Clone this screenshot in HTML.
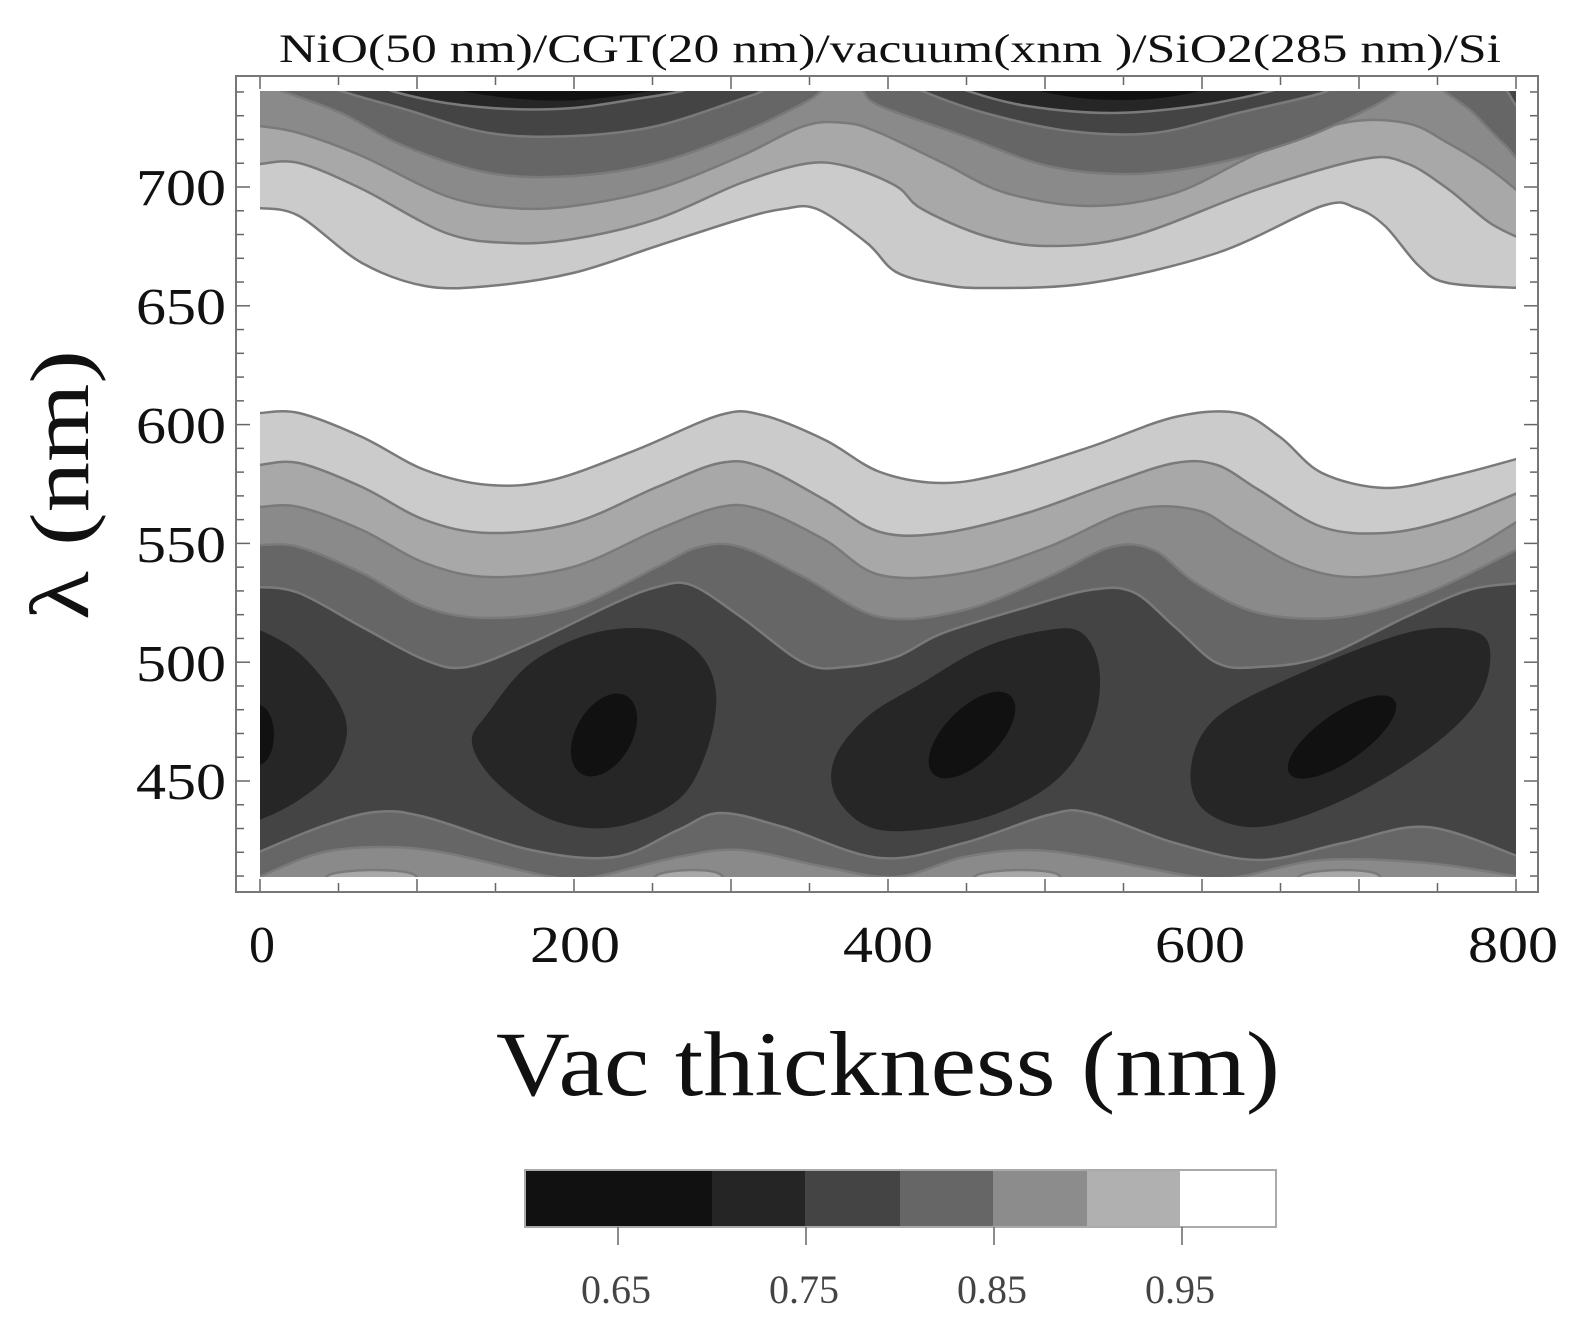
<!DOCTYPE html>
<html><head><meta charset="utf-8">
<style>
html,body{margin:0;padding:0;background:#fff;}
svg{display:block;}
text{font-family:"Liberation Serif",serif;}
</style></head>
<body>
<svg id="s" width="1574" height="1328" viewBox="0 0 1574 1328" xmlns="http://www.w3.org/2000/svg">
<defs><clipPath id="c"><rect x="260" y="91" width="1256" height="786"/></clipPath></defs>
<rect width="1574" height="1328" fill="#fff"/>
<g id="plot" clip-path="url(#c)"></g>
<g id="axes" stroke="#666" stroke-width="1.5" fill="none"></g>
<rect x="236" y="76" width="1302" height="816" fill="none" stroke="#777" stroke-width="2"/>
<text x="890" y="62" font-size="40" text-anchor="middle" textLength="1222" lengthAdjust="spacingAndGlyphs" fill="#111">NiO(50 nm)/CGT(20 nm)/vacuum(xnm )/SiO2(285 nm)/Si</text>
<g font-size="52" fill="#111" text-anchor="end">
<text x="226" y="205" textLength="90" lengthAdjust="spacingAndGlyphs">700</text><text x="226" y="324" textLength="90" lengthAdjust="spacingAndGlyphs">650</text><text x="226" y="443" textLength="90" lengthAdjust="spacingAndGlyphs">600</text>
<text x="226" y="562" textLength="90" lengthAdjust="spacingAndGlyphs">550</text><text x="226" y="681" textLength="90" lengthAdjust="spacingAndGlyphs">500</text><text x="226" y="799" textLength="90" lengthAdjust="spacingAndGlyphs">450</text>
</g>
<g font-size="52" fill="#111" text-anchor="middle">
<text x="262" y="962">0</text><text x="575" y="962" textLength="90" lengthAdjust="spacingAndGlyphs">200</text><text x="888" y="962" textLength="90" lengthAdjust="spacingAndGlyphs">400</text>
<text x="1200" y="962" textLength="90" lengthAdjust="spacingAndGlyphs">600</text><text x="1513" y="962" textLength="90" lengthAdjust="spacingAndGlyphs">800</text>
</g>
<text transform="translate(88,485) rotate(-90)" font-size="84" text-anchor="middle" textLength="270" lengthAdjust="spacingAndGlyphs" fill="#111">λ (nm)</text>
<text x="888" y="1095" font-size="92" text-anchor="middle" textLength="784" lengthAdjust="spacingAndGlyphs" fill="#111">Vac thickness (nm)</text>
<g>
<rect x="525" y="1170" width="187" height="57" fill="#111"/>
<rect x="712" y="1170" width="93" height="57" fill="#252525"/>
<rect x="805" y="1170" width="95" height="57" fill="#444"/>
<rect x="900" y="1170" width="93" height="57" fill="#666"/>
<rect x="993" y="1170" width="94" height="57" fill="#8c8c8c"/>
<rect x="1087" y="1170" width="93" height="57" fill="#b0b0b0"/>
<rect x="1180" y="1170" width="96" height="57" fill="#fff"/>
<rect x="525" y="1170" width="751" height="57" fill="none" stroke="#aaa" stroke-width="2"/>
<g stroke="#666" stroke-width="1.5"><line x1="618" y1="1227" x2="618" y2="1245"/><line x1="806" y1="1227" x2="806" y2="1245"/><line x1="994" y1="1227" x2="994" y2="1245"/><line x1="1182" y1="1227" x2="1182" y2="1245"/></g>
<g font-size="40" fill="#444" text-anchor="middle">
<text x="616" y="1303">0.65</text><text x="804" y="1303">0.75</text><text x="992" y="1303">0.85</text><text x="1180" y="1303">0.95</text>
</g>
</g>
</svg>
<script>
const NS="http://www.w3.org/2000/svg";
const plot=document.getElementById('plot');
function cr(p,closed){let d="M"+p[0][0]+","+p[0][1];const n=p.length;const g=i=>closed?p[(i+n)%n]:p[Math.max(0,Math.min(n-1,i))];const m=closed?n:n-1;for(let i=0;i<m;i++){const a=g(i-1),b=g(i),c=g(i+1),e=g(i+2);const c1=[b[0]+(c[0]-a[0])/6,b[1]+(c[1]-a[1])/6],c2=[c[0]-(e[0]-b[0])/6,c[1]-(e[1]-b[1])/6];d+="C"+c1.join(",")+" "+c2.join(",")+" "+c.join(",");}return d;}
function P(pts,fill,close,stroke){const el=document.createElementNS(NS,'path');let d=cr(pts,false);if(close)d+="L"+close.map(q=>q.join(",")).join("L")+"Z";else d+="Z";el.setAttribute('d',d);el.setAttribute('fill',fill);el.setAttribute('stroke',stroke===false?'none':'#7a7a7a');el.setAttribute('stroke-width','2.5');plot.appendChild(el);}
function Q(pts,fill){const el=document.createElementNS(NS,'path');el.setAttribute('d',cr(pts,true)+"Z");el.setAttribute('fill',fill);plot.appendChild(el);}
const T=85,B=890,L=250,R=1526;
const LI="#cbcbcb",G1="#a8a8a8",G2="#8a8a8a",G3="#666",G4="#444",G5="#262626",G6="#111";
P([[L,208],[259,208],[299,216],[362,263],[425,286],[489,286],[573,273],[657,246],[741,219],[783,209],[817,209],[867,243],[896,272],[940,284],[985,288],[1090,283],[1217,253],[1322,206],[1356,208],[1385,226],[1419,266],[1448,283],[1520,288],[R,288]],LI,[[R,T],[L,T]]);
P([[L,164],[259,164],[299,163],[362,189],[446,233],[510,243],[573,239],[657,219],[741,183],[804,164],[846,166],[896,186],[922,209],[985,236],[1048,246],[1133,236],[1259,189],[1364,159],[1406,163],[1448,189],[1490,223],[R,241]],G1,[[R,T],[L,T]]);
P([[L,126],[259,126],[299,133],[362,156],[446,196],[510,208],[573,206],[657,189],[741,156],[804,126],[846,123],[880,133],[943,163],[1006,193],[1090,206],[1175,193],[1259,153],[1343,123],[1406,123],[1448,143],[1490,169],[R,198]],G2,[[R,T],[L,T]]);
P([[270,T],[282,91],[341,113],[404,146],[489,173],[573,176],[657,163],[741,133],[804,103],[821,91],[826,T]],G3);
P([[858,T],[863,91],[880,106],[964,136],[1048,166],[1133,174],[1217,163],[1301,139],[1370,108],[1398,91],[1402,T]],G3);
P([[1440,T],[1444,91],[1470,110],[1490,130],[1505,145],[R,160],[R,T]],G3);
P([[335,T],[341,91],[404,109],[489,133],[573,136],[657,126],[741,99],[762,91],[766,T]],G4);
P([[916,T],[922,91],[985,113],[1069,131],[1154,133],[1238,113],[1322,93],[1326,T]],G4);
P([[1500,T],[1507,91],[1516,105],[R,112],[R,T]],G4);
P([[388,T],[392,91],[446,103],[510,109],[573,108],[636,99],[682,91],[686,T]],G5);
P([[964,T],[968,91],[1027,106],[1111,113],[1196,106],[1271,91],[1275,T]],G5);
P([[455,T],[462,91],[520,99],[580,100],[650,91],[656,T]],G6,null,false);
P([[1035,T],[1040,91],[1090,99],[1150,99],[1200,91],[1205,T]],G6,null,false);
P([[L,413],[259,413],[299,413],[362,437],[425,470],[489,485],[552,480],[636,450],[720,415],[762,415],[825,440],[880,472],[943,483],[1006,473],[1090,447],[1175,417],[1238,413],[1280,437],[1322,473],[1385,488],[1448,477],[1520,458],[R,455]],LI,[[R,B],[L,B]]);
P([[L,465],[259,465],[299,463],[362,487],[425,520],[489,533],[573,523],[657,487],[720,463],[762,467],[825,500],[880,532],[943,533],[1027,513],[1111,483],[1175,463],[1217,465],[1259,490],[1322,527],[1385,533],[1448,520],[1520,492],[R,489]],G1,[[R,B],[L,B]]);
P([[L,507],[259,507],[299,507],[362,530],[425,563],[489,577],[573,567],[657,530],[720,507],[762,510],[825,540],[880,575],[964,573],[1048,547],[1133,510],[1196,510],[1238,533],[1301,567],[1364,577],[1448,560],[1520,520],[R,516]],G2,[[R,B],[L,B]]);
P([[L,545],[259,545],[299,547],[362,573],[425,607],[489,618],[573,607],[657,567],[699,547],[741,547],[804,577],[880,617],[964,610],[1048,577],[1111,547],[1154,550],[1196,583],[1259,613],[1343,617],[1427,593],[1520,548],[R,545]],G3,[[R,B],[L,B]]);
P([[L,587],[259,587],[299,593],[362,627],[425,660],[467,667],[531,643],[615,603],[657,587],[691,585],[741,617],[804,663],[846,667],[896,657],[943,633],[1027,607],[1090,590],[1133,592],[1175,627],[1217,663],[1259,667],[1322,657],[1406,617],[1469,590],[1520,583],[R,582]],G4,[[R,B],[L,B]]);
P([[L,855],[259,852],[320,827],[375,812],[425,817],[531,850],[615,857],[678,830],[720,813],[783,827],[880,858],[964,843],[1048,815],[1090,813],[1175,843],[1259,860],[1343,843],[1427,827],[1520,857],[R,860]],G3,[[R,B],[L,B]]);
P([[L,880],[259,877],[320,853],[383,847],[446,853],[552,877],[594,877],[678,857],[741,850],[825,867],[896,877],[964,857],[1027,850],[1090,857],[1196,877],[1238,877],[1322,860],[1427,863],[1520,877],[R,878]],G2,[[R,B],[L,B]]);
P([[325,B],[329,875],[370,870],[413,874],[418,B]],G1);
P([[652,B],[657,875],[690,870],[720,874],[725,B]],G1);
P([[972,B],[977,875],[1017,870],[1057,874],[1062,B]],G1);
P([[1296,B],[1301,875],[1340,870],[1377,874],[1382,B]],G1);
Q([[230,625],[259,630],[299,653],[333,693],[347,730],[333,770],[299,800],[259,820],[230,825]],G5);
Q([[488,713],[531,663],[594,633],[657,630],[699,653],[716,693],[707,750],[678,800],[615,827],[552,820],[497,783],[472,743]],G5);
Q([[834,760],[867,717],[922,683],[985,647],[1048,630],[1082,633],[1099,667],[1095,717],[1069,767],[1027,800],[964,823],[880,830],[838,800]],G5);
Q([[1191,767],[1217,717],[1301,673],[1406,633],[1469,630],[1490,650],[1478,700],[1427,750],[1343,800],[1259,827],[1204,810]],G5);
function E(cx,cy,rx,ry,rot){const e=document.createElementNS(NS,'ellipse');e.setAttribute('cx',cx);e.setAttribute('cy',cy);e.setAttribute('rx',rx);e.setAttribute('ry',ry);e.setAttribute('transform',`rotate(${rot} ${cx} ${cy})`);e.setAttribute('fill',G6);plot.appendChild(e);}
E(258,735,16,30,0);
E(604,735,28,45,30);
E(972,735,55,27,-45);
E(1342,737,64,24,-35);
const ax=document.getElementById('axes');
function ln(x1,y1,x2,y2){const l=document.createElementNS(NS,'line');l.setAttribute('x1',x1);l.setAttribute('y1',y1);l.setAttribute('x2',x2);l.setAttribute('y2',y2);ax.appendChild(l);}
for(let v=0;v<=800;v+=50){const x=260+v*1.57;const L2=(v%100==0)?13:9;ln(x,76,x,76+L2);ln(x,892,x,892-L2);}
for(let n=410;n<=740;n+=10){const y=781-(n-450)*2.376;const L2=(n%50==0)?14:8;ln(236,y,236+L2,y);ln(1538,y,1538-L2,y);}
</script>
</body></html>
